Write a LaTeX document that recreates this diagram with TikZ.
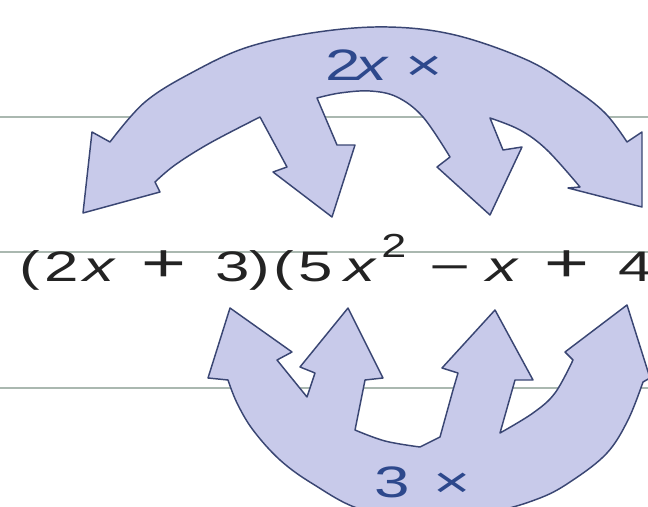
\documentclass[tikz,border=0pt]{standalone}
\usepackage{fontspec}
\setmainfont{Liberation Sans}
\usepackage{graphicx}
\definecolor{bandfill}{RGB}{200,202,234}
\definecolor{bandline}{RGB}{58,70,115}
\definecolor{rulecol}{RGB}{170,184,176}
\definecolor{labcol}{RGB}{45,72,140}
\definecolor{eqcol}{RGB}{35,35,35}
\tikzset{
  band/.style={fill=bandfill, draw=bandline, line width=1.1pt, line join=round},
  rulel/.style={draw=rulecol, line width=1.1pt},
  eq/.style={text=eqcol, inner sep=0pt, anchor=base, font=\fontsize{32}{32}\selectfont},
  eqsup/.style={text=eqcol, inner sep=0pt, anchor=base, font=\fontsize{25}{25}\selectfont},
  lab/.style={text=labcol, inner sep=0pt, anchor=base, font=\fontsize{33}{33}\selectfont}
}
\begin{document}
\begin{tikzpicture}[x=0.75pt,y=-0.75pt]
\useasboundingbox (0,0) rectangle (648,506);
\clip (0,0) rectangle (648,506);
\fill[white] (0,0) rectangle (648,506);
% ruled lines
\draw[rulel] (0,117) -- (648,117);
\draw[rulel] (0,252) -- (648,252);
\draw[rulel] (0,388) -- (648,388);
% upper branched arrow
\draw[band] (83,213) -- (92,132) -- (110,142)
  -- plot[smooth, tension=0.6] coordinates {(110,142) (145,102) (193,72) (248,47) (318,32) (388,27) (455,35) (527,60) (573,88) (605,113) (627,142)}
  -- (642,132) -- (642,207) -- (568,188) -- (580,187)
  -- plot[smooth, tension=0.6] coordinates {(580,187) (547,150) (520,130) (490,118)}
  -- (503,150) -- (522,147) -- (490,215) -- (437,167) -- (450,157)
  -- plot[smooth, tension=0.6] coordinates {(450,157) (423,117) (397,97) (370,91) (340,93) (317,98)}
  -- (337,145) -- (355,145) -- (332,217) -- (273,172) -- (287,167) -- (260,117)
  -- plot[smooth, tension=0.6] coordinates {(260,117) (210,143) (175,165) (155,182)}
  -- (160,192) -- cycle;
% lower branched arrow
\draw[band] (230,308) -- (292,352) -- (277,360) -- (307,397) -- (315,373) -- (300,367)
  -- (348,308) -- (383,378) -- (365,380) -- (355,430)
  -- plot[smooth, tension=0.6] coordinates {(355,430) (385,441) (420,447)}
  -- (440,437) -- (453,390) -- (458,373) -- (442,368) -- (495,310) -- (533,380) -- (515,380) -- (500,433)
  -- plot[smooth, tension=0.6] coordinates {(500,433) (533,413) (555,393) (573,360)}
  -- (565,352) -- (627,305) -- (650,378) -- (643,382)
  -- plot[smooth, tension=0.6] coordinates {(643,382) (628,420) (607,453) (573,480) (540,498) (490,512) (420,517) (360,509) (313,484) (280,460) (253,430) (237,403) (228,380)}
  -- (208,378) -- cycle;
% labels on the arrows
\node[lab] (l2) at (343,81) {\scalebox{1.45}[1]{2}};
\node[lab] (lx) at (371,81) {\scalebox{1.45}[1]{\itshape x}};
\node[lab] (lt) at (424,81) {\scalebox{1.45}[1]{×}};
\node[lab] (l3) at (392,497) {\scalebox{1.45}[1]{3}};
\node[lab] (lt2) at (452,497) {\scalebox{1.45}[1]{×}};
% the expression
\node[eq] (p1) at (30,281) {\scalebox{1.45}[1]{(}};
\node[eq] (c2) at (62,281) {\scalebox{1.45}[1]{2}};
\node[eq] (x1) at (99,281) {\scalebox{1.45}[1]{\itshape x}};
\node[eq] (pl1) at (164,281) {\scalebox{1.8}[1.25]{+}};
\node[eq] (c3) at (233,281) {\scalebox{1.45}[1]{3}};
\node[eq] (p2) at (260,281) {\scalebox{1.45}[1]{)}};
\node[eq] (p3) at (284,281) {\scalebox{1.45}[1]{(}};
\node[eq] (c5) at (316,281) {\scalebox{1.45}[1]{5}};
\node[eq] (x2) at (360,281) {\scalebox{1.45}[1]{\itshape x}};
\node[eqsup] (sq) at (394,257) {\scalebox{1.35}[1]{2}};
\node[eq] (mi) at (450,281) {\scalebox{1.65}[1]{−}};
\node[eq] (x3) at (502,281) {\scalebox{1.45}[1]{\itshape x}};
\node[eq] (pl2) at (567,281) {\scalebox{1.8}[1.25]{+}};
\node[eq] (c4) at (636,281) {\scalebox{1.45}[1]{4}};
\end{tikzpicture}
\end{document}
